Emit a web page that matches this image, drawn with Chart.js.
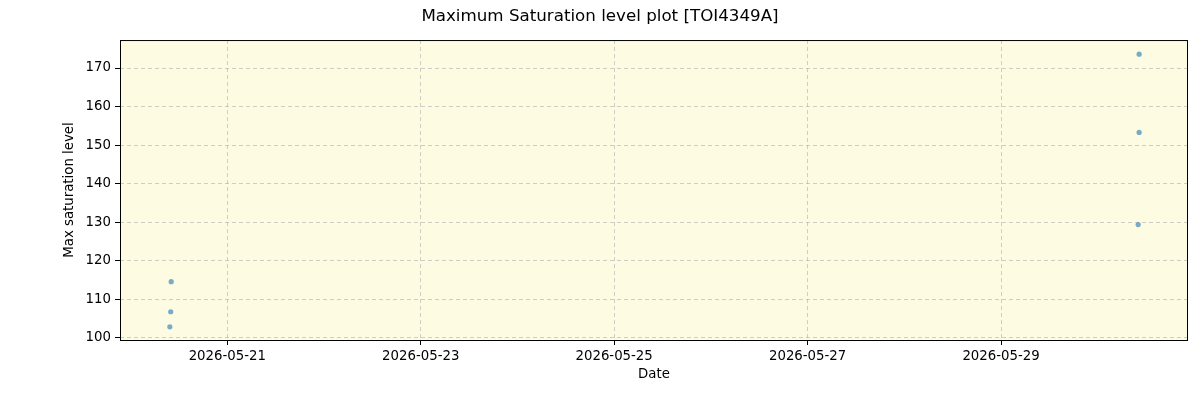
<!DOCTYPE html>
<html>
<head>
<meta charset="utf-8">
<script src="https://cdn.jsdelivr.net/npm/chart.js@4"></script>
<style>
  html, body { margin: 0; padding: 0; background: #fff; }
  #wrap { width: 1200px; height: 400px; }
</style>
</head>
<body>
<div id="wrap"><canvas id="c"></canvas></div>
<script>
const obsTimes = [
    '2026-05-20T10:05:00Z', '2026-05-20T09:58:00Z', '2026-05-20T09:45:00Z',
    '2026-05-30T10:16:00Z', '2026-05-30T10:16:00Z', '2026-05-30T10:02:00Z'
];
const maxSat = [114.6, 106.8, 102.9, 173.6, 153.3, 129.4];

// Tick labels on the date axis
const dateTicks = ['2026-05-21', '2026-05-23', '2026-05-25', '2026-05-27', '2026-05-29'];
const yTicks = [100, 110, 120, 130, 140, 150, 160, 170];

const DAY = 86400000;
const t0 = Date.parse('2026-05-21T00:00:00Z');
const xMin = t0 - 1.109 * DAY;
const xMax = Date.parse('2026-05-29T00:00:00Z') + 1.933 * DAY;

const font = 'DejaVu Sans';

// Frame and background of the plot area
const frame = {
    id: 'frame',
    beforeDraw(chart) {
        let a = chart.chartArea, ctx = chart.ctx;
        ctx.save();
        ctx.fillStyle = 'rgb(253,251,226)';
        ctx.fillRect(a.left, a.top, a.right - a.left, a.bottom - a.top);
        ctx.restore();
    },
    afterDraw(chart) {
        let a = chart.chartArea, ctx = chart.ctx;
        ctx.save();
        ctx.strokeStyle = '#000';
        ctx.lineWidth = 1;
        ctx.strokeRect(a.left + 0.5, a.top + 0.5, a.right - a.left - 1, a.bottom - a.top);
        ctx.restore();
    }
};

new Chart(document.getElementById('c'), {
    type: 'scatter',
    data: {
        datasets: [{
            data: obsTimes.map((t, i) => ({ x: Date.parse(t), y: maxSat[i] })),
            backgroundColor: 'rgba(31,119,180,0.6)',
            borderWidth: 0,
            pointRadius: 2.6
        }]
    },
    options: {
        responsive: true,
        maintainAspectRatio: false,
        animation: false,
        layout: { padding: { left: 12, right: 12, top: 0, bottom: 0 } },
        plugins: {
            legend: { display: false },
            tooltip: { enabled: false },
            title: {
                display: true,
                text: 'Maximum Saturation level plot [TOI4349A]',
                color: '#000',
                font: { family: font, size: 16.7, weight: 'normal' },
                padding: { top: 7, bottom: 13 }
            }
        },
        scales: {
            x: {
                type: 'linear',
                min: xMin,
                max: xMax,
                afterBuildTicks(axis) {
                    axis.ticks = dateTicks.map(d => ({ value: Date.parse(d + 'T00:00:00Z') }));
                },
                afterFit(axis) { axis.height = 60; },
                ticks: {
                    color: '#000',
                    font: { family: font, size: 13.3 },
                    padding: 4,
                    maxRotation: 0,
                    autoSkip: false,
                    callback: (v) => new Date(v).toISOString().slice(0, 10)
                },
                grid: {
                    color: 'rgba(176,176,176,0.6)',
                    tickColor: '#000',
                    tickLength: 5,
                    drawTicks: true
                },
                border: { display: false, dash: [4, 3] },
                title: {
                    display: true,
                    text: 'Date',
                    color: '#000',
                    font: { family: font, size: 13.3 },
                    padding: { top: 0, bottom: 17 }
                }
            },
            y: {
                min: 99.48,
                max: 177.26,
                afterBuildTicks(axis) {
                    axis.ticks = yTicks.map(v => ({ value: v }));
                },
                afterFit(axis) { axis.width = 108; },
                ticks: {
                    color: '#000',
                    font: { family: font, size: 13.3 },
                    padding: 4
                },
                grid: {
                    color: 'rgba(176,176,176,0.6)',
                    tickColor: '#000',
                    tickLength: 5
                },
                border: { display: false, dash: [4, 3] },
                title: {
                    display: true,
                    text: 'Max saturation level',
                    color: '#000',
                    font: { family: font, size: 13.3 },
                    padding: { top: 50, bottom: 0 }
                }
            }
        }
    },
    plugins: [frame]
});
</script>
</body>
</html>
